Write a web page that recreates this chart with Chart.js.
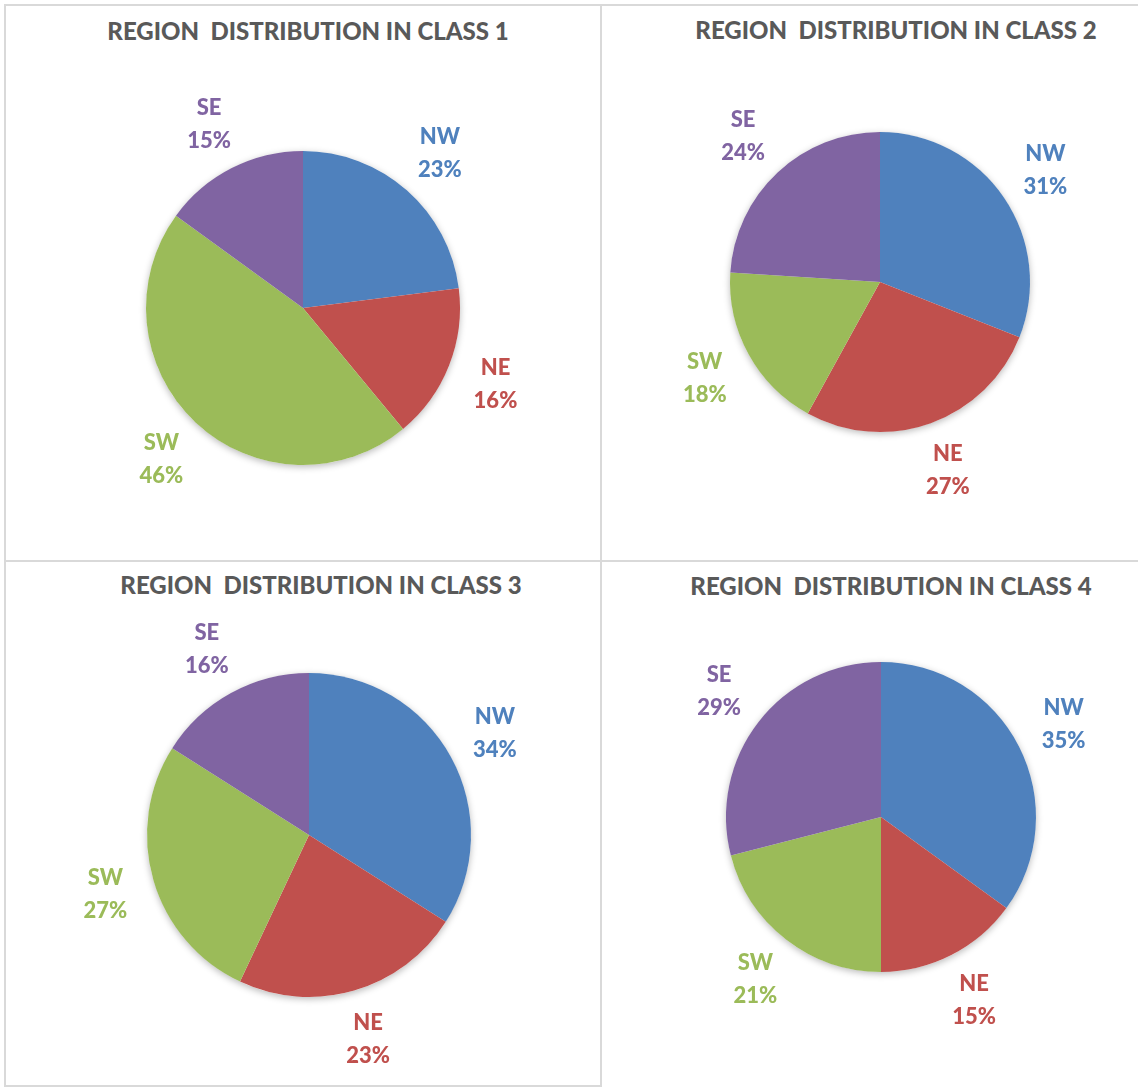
<!DOCTYPE html>
<html>
<head>
<meta charset="utf-8">
<title>Region distribution by class</title>
<script src="https://cdn.jsdelivr.net/npm/chart.js@4/dist/chart.umd.min.js"></script>
<style>
  body {
    margin: 0;
    width: 1138px;
    height: 1087px;
    background: #fff;
    position: relative;
    overflow: hidden;
    font-family: Lato, "Open Sans", sans-serif;
  }
  .panel {
    position: absolute;
    border: 2px solid #d9d9d9;
    box-sizing: border-box;
  }
  .title {
    position: absolute;
    transform: translate(-50%, -50%);
    white-space: pre;
    font-weight: 900;
    font-size: 24px;
    color: #595959;
  }
  canvas {
    position: absolute;
  }
</style>
</head>
<body>
<div class="panel" style="left:4px;top:4px;width:598px;height:558px"></div>
<div class="panel" style="left:600px;top:4px;width:600px;height:558px"></div>
<div class="panel" style="left:4px;top:560px;width:598px;height:527px"></div>
<div class="panel" style="left:600px;top:560px;width:600px;height:600px"></div>

<script>
  const regions = ["NW", "NE", "SW", "SE"];
  const class1 = [23, 16, 46, 15];
  const class2 = [31, 27, 18, 24];
  const class3 = [34, 23, 27, 16];
  const class4 = [35, 15, 21, 29];
  const titles = [
    "REGION  DISTRIBUTION IN CLASS 1",
    "REGION  DISTRIBUTION IN CLASS 2",
    "REGION  DISTRIBUTION IN CLASS 3",
    "REGION  DISTRIBUTION IN CLASS 4"
  ];
  const colors = ["#4F81BD", "#C0504D", "#9BBB59", "#8064A2"];

  // where each pie sits on the page (center + radius) and where its title goes
  const boxes = [
    { cx: 303, cy: 308, r: 157, tx: 308, ty: 30 },
    { cx: 880, cy: 282, r: 150, tx: 896, ty: 29 },
    { cx: 309, cy: 835, r: 162, tx: 321, ty: 584 },
    { cx: 881, cy: 817, r: 155, tx: 891, ty: 585 }
  ];
  const margin = 90;

  // soft shadow under the whole pie
  const pieShadow = {
    id: "pieShadow",
    beforeDatasetsDraw(chart) {
      const arc = chart.getDatasetMeta(0).data[0];
      if (!arc) return;
      const ctx = chart.ctx;
      ctx.save();
      ctx.shadowColor = "rgba(0,0,0,0.28)";
      ctx.shadowBlur = 7;
      ctx.shadowOffsetY = 2;
      ctx.fillStyle = "#fff";
      ctx.beginPath();
      ctx.arc(arc.x, arc.y, arc.outerRadius, 0, Math.PI * 2);
      ctx.fill();
      ctx.restore();
    }
  };

  // category name + percent, outside each slice
  const outsideLabels = {
    id: "outsideLabels",
    afterDatasetsDraw(chart) {
      const ctx = chart.ctx;
      const ds = chart.data.datasets[0];
      const total = ds.data.reduce((a, b) => a + b, 0);
      chart.getDatasetMeta(0).data.forEach((arc, i) => {
        const p = arc.getProps(["x", "y", "startAngle", "endAngle", "outerRadius"]);
        const mid = (p.startAngle + p.endAngle) / 2;
        const d = p.outerRadius + 50;
        const lx = p.x + Math.cos(mid) * d;
        const ly = p.y + Math.sin(mid) * d;
        const pct = Math.round((ds.data[i] / total) * 100);
        ctx.save();
        ctx.fillStyle = ds.backgroundColor[i];
        ctx.font = "900 22px Lato, 'Open Sans', sans-serif";
        ctx.textAlign = "center";
        ctx.textBaseline = "middle";
        ctx.fillText(chart.data.labels[i], lx, ly - 16);
        ctx.fillText(pct + "%", lx, ly + 17);
        ctx.restore();
      });
    }
  };

  function makePie(values, idx) {
    const b = boxes[idx];
    const size = 2 * (b.r + margin);

    const t = document.createElement("div");
    t.className = "title";
    t.textContent = titles[idx];
    t.style.left = b.tx + "px";
    t.style.top = b.ty + "px";
    document.body.appendChild(t);

    const canvas = document.createElement("canvas");
    canvas.width = size;
    canvas.height = size;
    canvas.style.left = b.cx - b.r - margin + "px";
    canvas.style.top = b.cy - b.r - margin + "px";
    document.body.appendChild(canvas);

    new Chart(canvas.getContext("2d"), {
      type: "pie",
      data: {
        labels: regions,
        datasets: [
          {
            data: values,
            backgroundColor: colors,
            borderWidth: 0,
            offset: 0,
            hoverOffset: 0
          }
        ]
      },
      options: {
        responsive: false,
        animation: false,
        layout: { padding: margin },
        plugins: {
          legend: { display: false },
          tooltip: { enabled: false },
          title: { display: false }
        }
      },
      plugins: [pieShadow, outsideLabels]
    });
  }

  makePie(class1, 0);
  makePie(class2, 1);
  makePie(class3, 2);
  makePie(class4, 3);
</script>
</body>
</html>
